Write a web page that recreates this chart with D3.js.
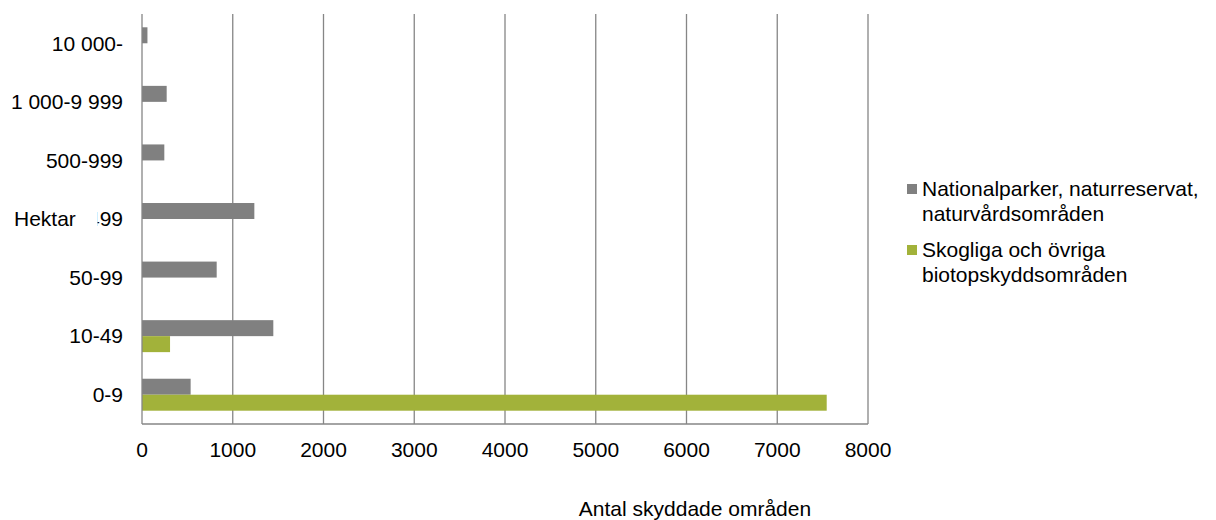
<!DOCTYPE html>
<html>
<head>
<meta charset="utf-8">
<script src="https://cdn.jsdelivr.net/npm/d3@7"></script>
<style>
  body { margin: 0; background: #fff; }
  text { font-family: "Liberation Sans", Arial, sans-serif; fill: #000; }
</style>
</head>
<body>
<svg id="chart" width="1216" height="520"></svg>
<script>
// storleksklasser, uppifrån och ned
var categories = ["10 000-", "1 000-9 999", "500-999", "100-499", "50-99", "10-49", "0-9"]
var seriesNames = ["Nationalparker, naturreservat, naturvårdsområden", "Skogliga och övriga biotopskyddsområden"]
var legendLines = [["Nationalparker, naturreservat,", "naturvårdsområden"], ["Skogliga och övriga", "biotopskyddsområden"]]
var nationalValues = [60, 272, 246, 1238, 823, 1447, 536]
var skogligaValues = [0, 0, 0, 0, 0, 309, 7545]
var xTicks = [0, 1000, 2000, 3000, 4000, 5000, 6000, 7000, 8000]
var colors = ["#808080", "#a2b23a"]

var svg = d3.select("#chart")
var plotL = 142, plotR = 868, plotT = 14, plotB = 424

var x = d3.scaleLinear().domain([0, 8000]).range([plotL, plotR])
var y = d3.scaleBand().domain(categories).range([plotT, plotB])
  .paddingInner(0.454).paddingOuter(0.227)
var y1 = d3.scaleBand().domain(seriesNames).range([0, y.bandwidth()])

// gridlines
svg.append("g").selectAll("line").data(xTicks.slice(1)).join("line")
  .attr("x1", d => x(d)).attr("x2", d => x(d))
  .attr("y1", plotT).attr("y2", plotB)
  .attr("stroke", "#868686").attr("stroke-width", 1.3)

var rows = categories.map((c, i) => ({cat: c, vals: [nationalValues[i], skogligaValues[i]]}))

var groups = svg.append("g").selectAll("g").data(rows).join("g")
  .attr("transform", d => "translate(0," + y(d.cat) + ")")

groups.selectAll("rect")
  .data(d => d.vals.map((v, j) => ({v: v, s: seriesNames[j], j: j})).filter(e => e.v > 0))
  .join("rect")
  .attr("x", x(0))
  .attr("y", d => y1(d.s))
  .attr("width", d => x(d.v) - x(0))
  .attr("height", y1.bandwidth())
  .attr("fill", d => colors[d.j])

// axes lines
svg.append("line").attr("x1", plotL).attr("x2", plotL).attr("y1", plotT).attr("y2", plotB)
  .attr("stroke", "#868686").attr("stroke-width", 1.3)
svg.append("line").attr("x1", plotL).attr("x2", plotR).attr("y1", plotB).attr("y2", plotB)
  .attr("stroke", "#868686").attr("stroke-width", 1.3)

// x tick labels
svg.append("g").selectAll("text").data(xTicks).join("text")
  .attr("x", d => x(d)).attr("y", 450)
  .attr("dy", "0.35em")
  .attr("text-anchor", "middle")
  .attr("font-size", "21px")
  .text(d => d)

// category labels
svg.append("g").selectAll("text").data(categories).join("text")
  .attr("x", 123).attr("y", d => y(d) + y.bandwidth() / 2)
  .attr("dy", "0.35em")
  .attr("text-anchor", "end")
  .attr("font-size", "21px")
  .text(d => d)

// axeltitel "Hektar" med vit bakgrund som skymmer etiketten
var hy = y("100-499") + y.bandwidth() / 2
svg.append("rect").attr("x", 6).attr("y", hy - 13).attr("width", 91.5).attr("height", 25).attr("fill", "#fff")
svg.append("text").attr("x", 14).attr("y", hy).attr("dy", "0.35em")
  .attr("font-size", "21px").text("Hektar")

svg.append("text").attr("x", 695).attr("y", 509).attr("dy", "0.35em")
  .attr("text-anchor", "middle").attr("font-size", "21px")
  .text("Antal skyddade områden")

// legend
var legendY = [189, 250]
var leg = svg.append("g").selectAll("g").data(legendLines).join("g")
  .attr("transform", (d, i) => "translate(907," + legendY[i] + ")")
leg.append("rect").attr("x", 0).attr("y", -5).attr("width", 10).attr("height", 10)
  .attr("fill", (d, i) => colors[i])
leg.selectAll("text").data(d => d).join("text")
  .attr("x", 15).attr("y", (d, k) => k * 25)
  .attr("dy", "0.35em")
  .attr("font-size", "21px")
  .text(d => d)
</script>
</body>
</html>
